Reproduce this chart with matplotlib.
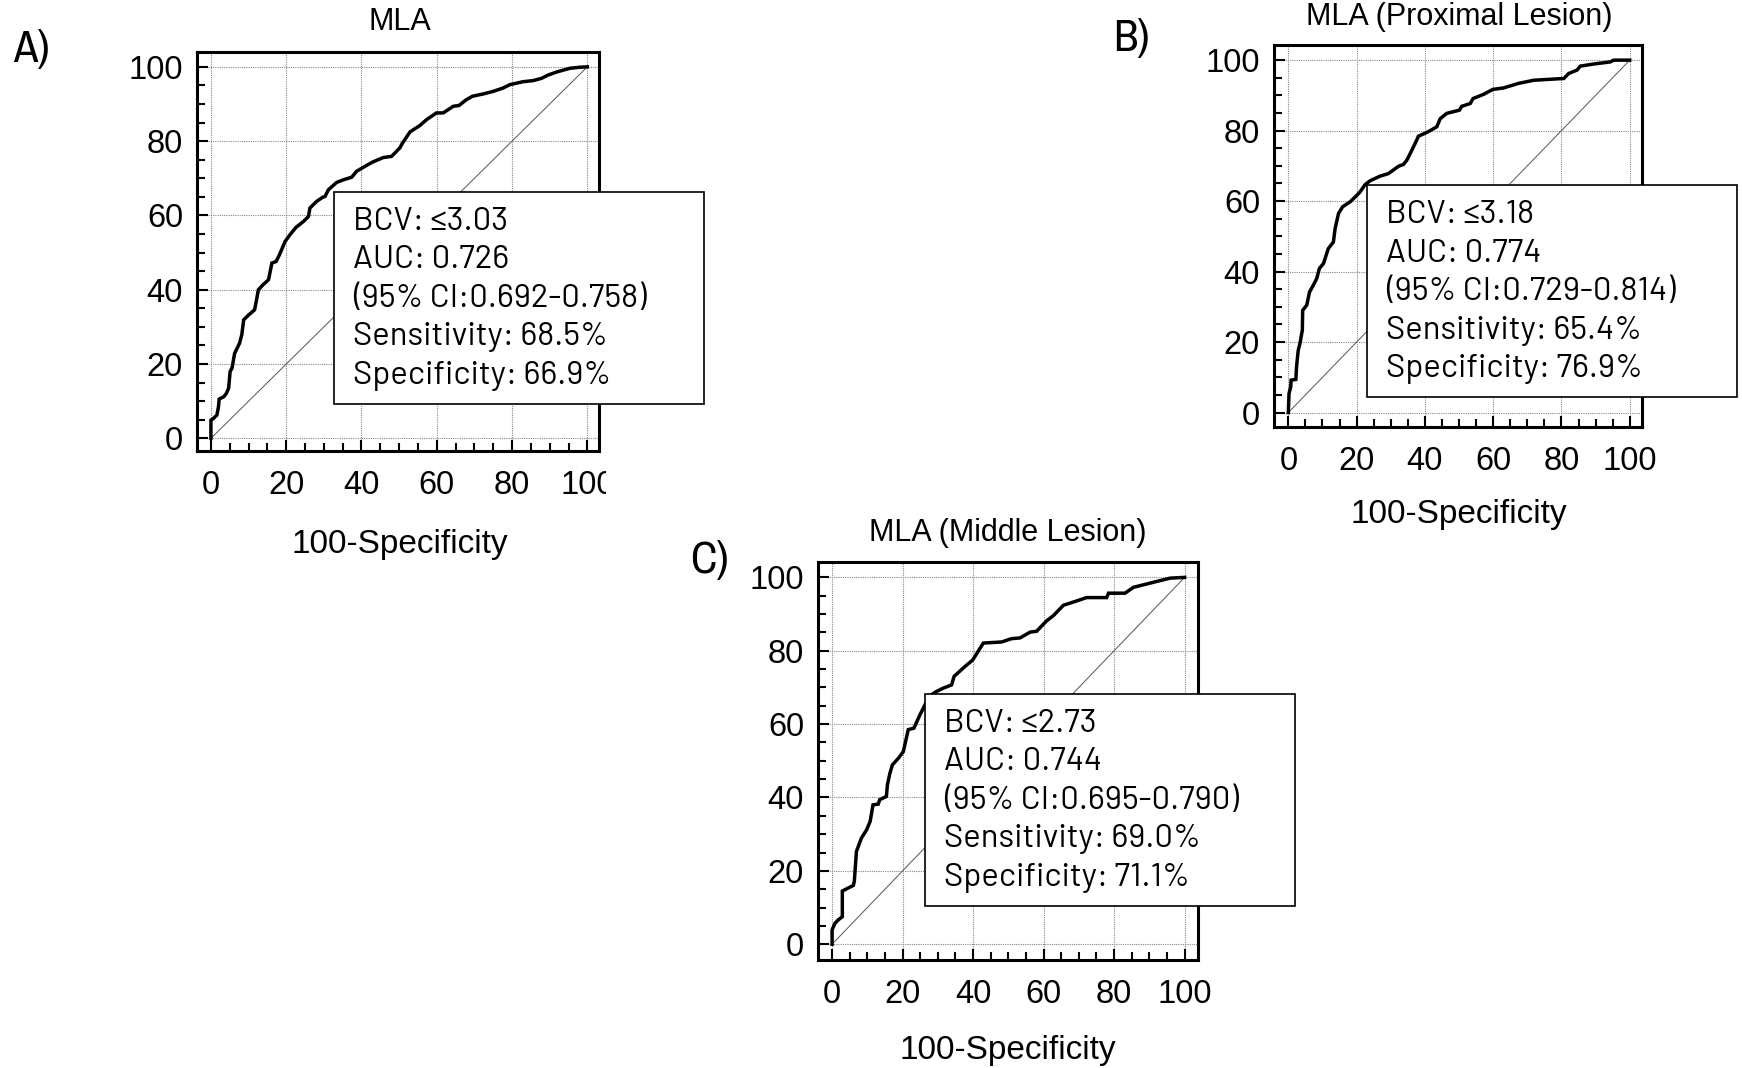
import matplotlib
matplotlib.use("Agg")
import matplotlib.pyplot as plt
from matplotlib.patches import Rectangle
from matplotlib.ticker import MultipleLocator

# ROC curves: x = 100-Specificity, y = Sensitivity
a_x = [0, 0, 0.7, 1.6, 2.0, 2.2, 3.4, 4.1, 4.7, 5.1, 5.6, 6.3, 7.6, 8.2, 8.7, 10.0, 11.6,
       12.2, 12.6, 13.8, 15.3, 16.2, 17.3, 18.2, 19.7, 21.0, 22.6, 24.6, 25.9, 26.3, 28.1,
       29.7, 30.3, 31.2, 33.4, 35.2, 37.4, 38.7, 41.4, 43.0, 45.8, 48.0, 50.2, 50.9, 52.9,
       55.5, 57.3, 59.9, 61.7, 64.4, 65.9, 67.9, 69.5, 72.3, 75.0, 77.6, 79.4, 82.9, 85.6,
       87.8, 89.6, 91.8, 95.3, 98.0, 100]
a_y = [0, 4.9, 5.4, 6.3, 8.5, 10.6, 11.2, 12.1, 13.5, 18.0, 18.9, 22.9, 25.6, 27.9, 31.9,
       33.2, 34.6, 37.7, 40.0, 41.3, 42.7, 47.2, 47.6, 49.4, 53.0, 54.8, 56.8, 58.4, 59.7,
       62.0, 63.8, 64.9, 65.1, 66.9, 68.9, 69.6, 70.3, 71.9, 73.5, 74.4, 75.6, 75.9, 78.2,
       79.5, 82.5, 84.2, 85.8, 87.6, 87.6, 89.4, 89.6, 91.2, 92.1, 92.7, 93.4, 94.3, 95.2,
       96.0, 96.3, 96.9, 97.8, 98.6, 99.6, 99.9, 100]

b_x = [0, 0.2, 0.7, 0.8, 2.2, 2.4, 2.9, 3.4, 4.1, 4.2, 5.4, 6.2, 7.3, 8.3, 9.1, 10.3, 11.7,
       13.2, 13.7, 14.7, 15.9, 18.1, 19.6, 21.0, 22.5, 24.0, 26.9, 29.3, 32.3, 33.7, 34.7,
       35.7, 37.6, 38.1, 41.0, 43.5, 44.5, 46.4, 50.1, 50.8, 53.3, 54.1, 57.2, 59.9, 63.0,
       67.4, 71.9, 80.7, 82.1, 84.6, 85.5, 89.4, 94.3, 95.3, 100]
b_y = [0, 5.4, 7.3, 9.2, 9.4, 13.0, 17.7, 19.6, 23.4, 29.0, 30.5, 34.2, 36.1, 38.0, 40.9,
       42.3, 46.5, 48.4, 52.2, 56.5, 58.4, 59.8, 61.2, 62.6, 64.7, 65.8, 67.1, 67.8, 69.9,
       70.4, 71.6, 73.5, 77.3, 78.4, 79.7, 81.1, 83.4, 84.9, 85.8, 86.9, 87.7, 89.1, 90.3,
       91.7, 92.1, 93.4, 94.3, 94.8, 96.2, 97.2, 98.3, 98.9, 99.5, 100, 100]

c_x = [0, 0, 0.8, 1.7, 2.9, 2.9, 4.5, 6.0, 6.3, 6.9, 8.3, 9.8, 10.8, 11.6, 13.1, 13.5, 15.4,
       15.7, 16.4, 17.1, 18.8, 20.2, 21.6, 23.2, 24.9, 25.9, 26.8, 28.2, 29.6, 31.5, 33.9,
       34.6, 37.2, 39.9, 42.9, 48.1, 50.9, 53.3, 56.2, 58.0, 60.9, 62.8, 65.6, 68.5, 72.2,
       77.9, 78.4, 83.1, 85.5, 88.4, 92.1, 95.9, 100]
c_y = [0, 3.9, 5.7, 6.6, 7.5, 14.5, 15.3, 16.0, 17.1, 25.3, 28.9, 31.2, 33.5, 38.0, 38.2,
       39.4, 40.3, 43.5, 46.6, 48.9, 50.7, 52.5, 58.5, 58.9, 62.5, 64.4, 66.2, 68.0, 68.9,
       69.8, 70.7, 73.0, 75.3, 77.5, 82.1, 82.4, 83.3, 83.5, 85.1, 85.3, 88.2, 89.6, 92.4,
       93.3, 94.5, 94.5, 95.7, 95.7, 97.3, 98.0, 98.9, 99.8, 100]

titles = ["MLA", "MLA (Proximal Lesion)", "MLA (Middle Lesion)"]
letters = ["A)", "B)", "C)"]
bcv = ["3.03", "3.18", "2.73"]
auc = ["0.726", "0.774", "0.744"]
ci = ["0.692-0.758", "0.729-0.814", "0.695-0.790"]
sens = ["68.5", "65.4", "69.0"]
spec = ["66.9", "76.9", "71.1"]

W, H = 1742, 1068
arial = ["Liberation Sans", "DejaVu Sans"]
narrow = ["Archivo Narrow", "Liberation Sans", "DejaVu Sans"]
boxfont = ["Barlow", "Liberation Sans", "DejaVu Sans"]


def fx(x):
    return x / W


def fy(y):
    return 1 - y / H


fig = plt.figure(figsize=(W / 100, H / 100), dpi=100)

# frame in pixels (left, top, right, bottom), axis limits, text anchors
frames = [(197, 52, 599, 451), (1274, 45, 1642, 427), (818, 562, 1198, 960)]
xlims = [(-3.7, 103.1), (-4.2, 103.6), (-4.0, 103.8)]
ylims = [(-3.4, 104.0), (-4.1, 104.3), (-4.3, 104.2)]
letter_pos = [(31, 50), (1131, 39), (709, 561)]
title_pos = [(400, 22), (1459, 17), (1008, 533)]
xlabel_pos = [(400, 545), (1459, 514), (1008, 1050)]
box_pos = [(334, 192), (1367, 185), (925, 694)]
curves = [(a_x, a_y), (b_x, b_y), (c_x, c_y)]

for i in range(3):
    l, t, r, b = frames[i]
    ax = fig.add_axes([fx(l), fy(b), fx(r - l), (b - t) / H])
    ax.set_xlim(*xlims[i])
    ax.set_ylim(*ylims[i])
    ax.set_xticks(range(0, 101, 20))
    ax.set_yticks(range(0, 101, 20))
    ax.xaxis.set_minor_locator(MultipleLocator(5))
    ax.yaxis.set_minor_locator(MultipleLocator(5))
    ax.tick_params(which="both", direction="in", top=False, right=False, width=1.5)
    ax.tick_params(which="major", length=8)
    ax.tick_params(which="minor", length=6)
    ax.tick_params(axis="x", pad=14)
    ax.tick_params(axis="y", pad=10)
    for lab in ax.get_xticklabels() + ax.get_yticklabels():
        lab.set_family(arial)
        lab.set_fontsize(23.5)
    for s in ax.spines.values():
        s.set_linewidth(2.2)
    ax.grid(True, which="major", color="#888888", linestyle=(0, (1, 1)), linewidth=0.8)
    ax.set_axisbelow(True)
    ax.plot([0, 100], [0, 100], color="#555555", linewidth=0.7)
    ax.plot(curves[i][0], curves[i][1], color="black", linewidth=2.5,
            solid_joinstyle="miter")

    fig.text(fx(letter_pos[i][0]), fy(letter_pos[i][1]), letters[i], family=narrow,
             fontsize=32, ha="center", va="center")
    fig.text(fx(title_pos[i][0]), fy(title_pos[i][1]), titles[i], family=arial,
             fontsize=22, ha="center", va="center")
    fig.text(fx(xlabel_pos[i][0]), fy(xlabel_pos[i][1]), "100-Specificity", family=arial,
             fontsize=24, ha="center", va="center")

    bx, by = box_pos[i]
    fig.add_artist(Rectangle((fx(bx), fy(by + 212)), 370 / W, 212 / H,
                             transform=fig.transFigure, facecolor="white",
                             edgecolor="black", linewidth=1.2, zorder=5))
    lines = ["BCV: \u2264" + bcv[i], "AUC: " + auc[i], "(95% CI:" + ci[i] + ")",
             "Sensitivity: " + sens[i] + "%", "Specificity: " + spec[i] + "%"]
    for k, line in enumerate(lines):
        fig.text(fx(bx + 19), fy(by + 30 + 38.5 * k), line, family=boxfont,
                 fontsize=23.6, ha="left", va="center", zorder=6)

# the last x tick label of panel A is cut off in the original
fig.add_artist(Rectangle((fx(606), fy(515)), 40 / W, 50 / H, transform=fig.transFigure,
                         facecolor="white", edgecolor="none", zorder=4))

fig.savefig("out.png", dpi=100)
